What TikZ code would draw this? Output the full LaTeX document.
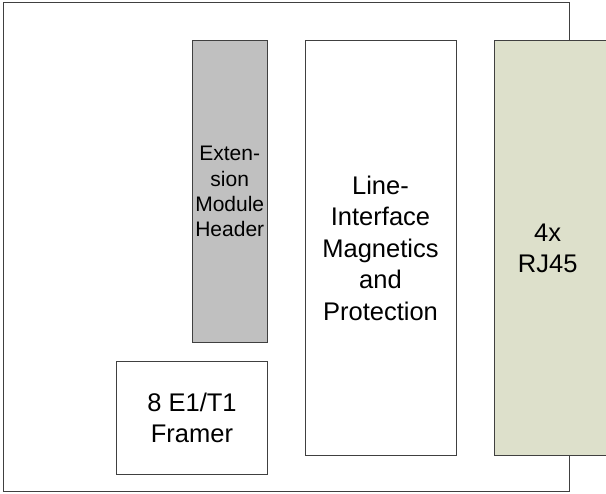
\documentclass[tikz,border=0pt]{standalone}
\usepackage{fontspec}
\setmainfont{Liberation Sans}
\usetikzlibrary{positioning}
\definecolor{headergray}{HTML}{C0C0C0}
\definecolor{jackgreen}{HTML}{DDE0CB}
\definecolor{edgegray}{HTML}{404040}

\begin{document}
\begin{tikzpicture}[x=1pt, y=-1pt,
    block/.style={draw=edgegray, line width=1pt, inner sep=0pt, align=center,
      font=\fontsize{25.5}{31.5}\selectfont},
    smallblock/.style={block, font=\fontsize{21}{25.3}\selectfont}]
      \useasboundingbox (0, 0) rectangle (606, 494);
      \node [draw=edgegray, line width=1pt, minimum width=566pt, minimum height=489pt] (board) at (286, 247.5) {};

      \node [smallblock, fill=headergray, minimum width=75.5pt, minimum height=301.7pt] (header) at (229.75, 191.55) {Exten-\\sion\\Module\\Header};
      \node [block, fill=white, minimum width=151pt, minimum height=113pt] (framer) at (192, 418) {8 E1/T1\\Framer};
      \node [block, fill=white, minimum width=151pt, minimum height=415.3pt] (lineif) at (380.5, 248.35) {Line-\\Interface\\Magnetics\\and\\Protection};

      \node [block, fill=jackgreen, minimum width=126pt, minimum height=415.3pt] (rj45) at (557, 248.35) {};
      \node [block, draw=none] (rj45label) at ([xshift=-9.3pt]rj45.center) {4x\\RJ45};
    \end{tikzpicture}
\end{document}
